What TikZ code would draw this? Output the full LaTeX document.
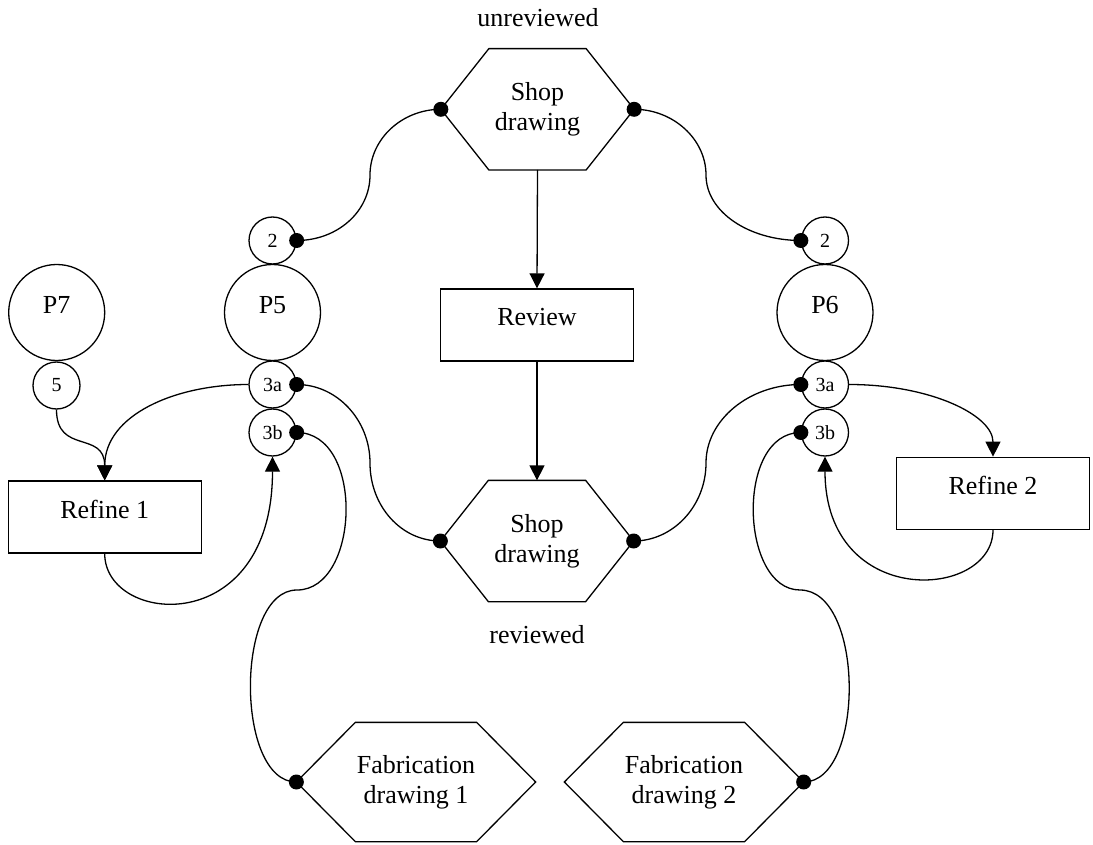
\documentclass[tikz,border=0pt]{standalone}
\usepackage{fontspec}
\setmainfont{Liberation Serif}
\usetikzlibrary{arrows.meta}
\begin{document}
\begin{tikzpicture}[x=1pt,y=-1pt,line width=1.3pt,
  every node/.style={font=\fontsize{26}{30}\selectfont},
  place/.style={circle,draw,minimum size=96pt,inner sep=0pt,text depth=16pt},
  port/.style={circle,draw,minimum size=47pt,inner sep=0pt,font=\fontsize{20}{24}\selectfont},
  task/.style={draw,rectangle,minimum width=193pt,minimum height=72pt,inner sep=0pt,text depth=16pt},
  shopdoc/.style={rectangle,minimum width=192pt,minimum height=120pt,inner sep=0pt,align=center},
  fabdoc/.style={rectangle,minimum width=238pt,minimum height=118pt,inner sep=0pt,align=center},
  arr/.style={-{Triangle[length=15pt,width=15pt]}},
  dot/.style={fill=black}]
\useasboundingbox (0,0) rectangle (1093,845);

% labels
\node (unrev) at (538,18) {unreviewed};
\node (rev) at (537,635) {reviewed};

% places
\node[place] (P7) at (56.7,312.5) {P7};
\node[port] (five) at (56.5,385.5) {5};
\node[place] (P5) at (272.5,312.5) {P5};
\node[port] (two5) at (272.5,240.5) {2};
\node[port] (a5) at (272.5,384.5) {3a};
\node[port] (b5) at (272.5,432.5) {3b};
\node[place] (P6) at (825,312.5) {P6};
\node[port] (two6) at (825,240.5) {2};
\node[port] (a6) at (825,384.5) {3a};
\node[port] (b6) at (825,432.5) {3b};

% tasks
\node[task] (review) at (537,325) {Review};
\node[task] (refine1) at (104.7,517) {Refine 1};
\node[task] (refine2) at (993,493.3) {Refine 2};

% documents
\node[shopdoc] (shopU) at (537.5,109.3) {Shop\\drawing};
\node[shopdoc] (shopR) at (537,541) {Shop\\drawing};
\node[fabdoc] (fab1) at (416,782) {Fabrication\\drawing 1};
\node[fabdoc] (fab2) at (684,782) {Fabrication\\drawing 2};

\foreach \n in {shopU,shopR}{
  \draw (\n.west) -- ([xshift=48pt]\n.north west) -- ([xshift=-48pt]\n.north east)
    -- (\n.east) -- ([xshift=-48pt]\n.south east) -- ([xshift=48pt]\n.south west) -- cycle;
}
\foreach \n in {fab1,fab2}{
  \draw (\n.west) -- ([xshift=59pt]\n.north west) -- ([xshift=-59pt]\n.north east)
    -- (\n.east) -- ([xshift=-59pt]\n.south east) -- ([xshift=59pt]\n.south west) -- cycle;
}

% waypoints
\coordinate (t5) at (370,175);
\coordinate (t6) at (706,175);
\coordinate (r5) at (370,463);
\coordinate (r6) at (706,463);
\coordinate (m5) at (297,590);
\coordinate (m6) at (800,590);

% connectors
\draw (two5.east) .. controls (337,240.5) and (370,212) .. (t5)
  .. controls (370,139) and (402,109.3) .. (shopU.west);
\draw (shopU.east) .. controls (673,109.3) and (706,139) .. (t6)
  .. controls (706,212) and (749,240.5) .. (two6.west);
\draw[arr] (shopU.south) -- (review.north);
\draw[arr] (review.south) -- (shopR.north);
\draw (a5.east) .. controls (337,384.5) and (370,420) .. (r5)
  .. controls (370,506) and (401,541) .. (shopR.west);
\draw (shopR.east) .. controls (673,541) and (706,506) .. (r6)
  .. controls (706,420) and (749,384.5) .. (a6.west);
\draw[arr] (a5.west) .. controls (175,384.5) and (104.7,415) .. (refine1.north);
\draw[arr] (five.south) .. controls (56.5,455) and (104.7,430) .. (refine1.north);
\draw[arr] (refine1.south) .. controls (104.7,625) and (272.5,640) .. (b5.south);
\draw (b5.east) .. controls (365,432.5) and (360,590) .. (m5)
  .. controls (235,590) and (235,782) .. (fab1.west);
\draw[arr] (a6.east) .. controls (930,384.5) and (993,415) .. (refine2.north);
\draw[arr] (refine2.south) .. controls (993,600) and (825,610) .. (b6.south);
\draw (b6.west) .. controls (735,432.5) and (740,590) .. (m6)
  .. controls (865,590) and (865,782) .. (fab2.east);

% dots
\foreach \p in {two5.east,shopU.west,shopU.east,two6.west,a5.east,shopR.west,
  shopR.east,a6.west,b5.east,fab1.west,b6.west,fab2.east}{
  \fill[dot] (\p) circle (7.5pt);
}
\end{tikzpicture}
\end{document}
